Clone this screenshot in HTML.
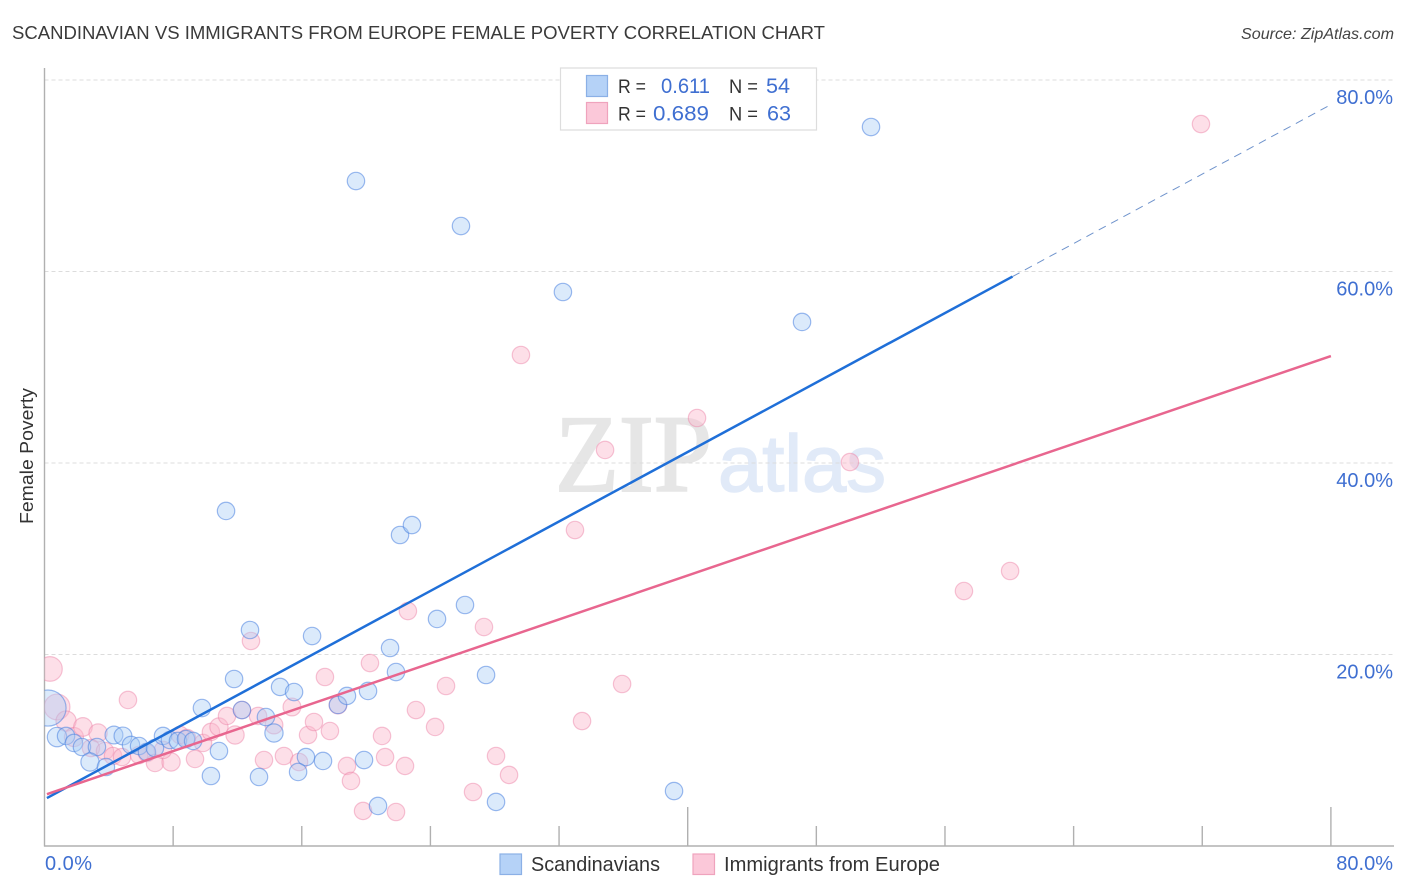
<!DOCTYPE html>
<html lang="en">
<head>
<meta charset="utf-8">
<title>Scandinavian vs Immigrants from Europe Female Poverty Correlation Chart</title>
<style>
html,body{margin:0;padding:0;background:#fff;width:1406px;height:892px;overflow:hidden}
svg{display:block;font-family:"Liberation Sans",sans-serif}
</style>
</head>
<body>
<svg id="chart" xmlns="http://www.w3.org/2000/svg" width="1406" height="892" viewBox="0 0 1406 892">
  <defs>
    <clipPath id="plot-clip"><rect x="44.5" y="60" width="1350" height="786"></rect></clipPath>
  </defs>
  <text x="12" y="39" font-size="18.5" fill="#3a3a3a" textLength="813" lengthAdjust="spacingAndGlyphs">SCANDINAVIAN VS IMMIGRANTS FROM EUROPE FEMALE POVERTY CORRELATION CHART</text>
  <text x="1394" y="39" font-size="16" font-style="italic" fill="#444" text-anchor="end" textLength="153" lengthAdjust="spacingAndGlyphs">Source: ZipAtlas.com</text>
  <text x="555" y="491" font-size="110" font-family="'Liberation Serif',serif" fill="#e6e6e6" stroke="#e6e6e6" stroke-width="2" textLength="157" lengthAdjust="spacingAndGlyphs">ZIP</text>
  <text x="718" y="491" font-size="80" fill="#e1eaf8" stroke="#e1eaf8" stroke-width="1.5" textLength="168" lengthAdjust="spacingAndGlyphs">atlas</text>
  <g id="grid"></g>
  <g id="axes"></g>
  <g id="points" clip-path="url(#plot-clip)"></g>
  <g id="trends"></g>
  <g id="labels"></g>
  <text transform="translate(33,456) rotate(-90)" font-size="18" fill="#333" text-anchor="middle" textLength="136" lengthAdjust="spacingAndGlyphs">Female Poverty</text>

  <g>
    <rect x="560.5" y="68" width="256" height="62" fill="#fff" stroke="#dddddd" stroke-width="1.2"></rect>
    <rect x="586.5" y="75.5" width="21" height="21" fill="#b5d2f7" stroke="#8bb0e6" stroke-width="1.2"></rect>
    <rect x="586.5" y="102.5" width="21" height="21" fill="#fbc8d9" stroke="#efa3bd" stroke-width="1.2"></rect>
    <text x="618" y="93" font-size="19" fill="#333" textLength="28" lengthAdjust="spacingAndGlyphs">R =</text>
    <text x="661" y="93" font-size="21" fill="#3f6fd1" textLength="49" lengthAdjust="spacingAndGlyphs">0.611</text>
    <text x="729" y="93" font-size="19" fill="#333" textLength="29" lengthAdjust="spacingAndGlyphs">N =</text>
    <text x="766" y="93" font-size="21" fill="#3f6fd1" textLength="24" lengthAdjust="spacingAndGlyphs">54</text>
    <text x="618" y="120.5" font-size="19" fill="#333" textLength="28" lengthAdjust="spacingAndGlyphs">R =</text>
    <text x="653" y="120.5" font-size="21" fill="#3f6fd1" textLength="56" lengthAdjust="spacingAndGlyphs">0.689</text>
    <text x="729" y="120.5" font-size="19" fill="#333" textLength="29" lengthAdjust="spacingAndGlyphs">N =</text>
    <text x="767" y="120.5" font-size="21" fill="#3f6fd1" textLength="24" lengthAdjust="spacingAndGlyphs">63</text>
  </g>

  <g>
    <rect x="500" y="854" width="21.5" height="20.5" fill="#b5d2f7" stroke="#8bb0e6" stroke-width="1.2"></rect>
    <text x="531" y="871" font-size="20" fill="#333" textLength="129" lengthAdjust="spacingAndGlyphs">Scandinavians</text>
    <rect x="693" y="854" width="21.5" height="20.5" fill="#fbc8d9" stroke="#efa3bd" stroke-width="1.2"></rect>
    <text x="724" y="871" font-size="20" fill="#333" textLength="216" lengthAdjust="spacingAndGlyphs">Immigrants from Europe</text>
  </g>
</svg>
<script>
var yGridValues = [20, 40, 60, 80];
var yTickLabels = ["20.0%", "40.0%", "60.0%", "80.0%"];
var xTickValues = [8, 16, 24, 32, 40, 48, 56, 64, 72, 80];
var xEndLabels = ["0.0%", "80.0%"];
var xEndValues = [0, 80];

var blueX = [0.22,0.78,1.34,1.83,2.33,3.26,2.83,3.82,4.32,4.88,5.38,5.88,6.37,6.87,7.37,7.80,8.30,8.80,9.24,9.79,10.85,10.35,11.79,12.28,12.78,13.77,14.27,13.34,14.65,15.52,16.64,16.26,15.77,17.32,18.25,18.81,20.12,19.87,20.74,21.86,21.49,24.41,26.15,27.46,28.08,39.15,11.29,22.11,22.85,19.37,25.90,32.24,47.11,51.40];
var blueY = [14.41,11.38,11.49,10.76,10.34,10.34,8.77,8.25,11.59,11.49,10.55,10.44,9.82,10.23,11.49,11.07,10.97,11.17,10.97,14.41,9.92,7.31,17.44,14.20,22.56,13.47,11.80,7.21,16.61,16.08,21.93,9.29,7.73,8.88,14.73,15.67,16.19,8.98,4.18,18.17,20.68,23.71,25.17,17.86,4.60,5.74,34.99,32.48,33.52,69.45,64.75,57.86,54.73,75.09];
var blueWeight = [4.3,1.25,1,1,1,1,1.1,1,1.05,1.05,1,1,1,1,1,1,1,1,1,1,1,1,1,1,1,1,1.1,1,1,1,1,1,1,1,1,1,1,1,1,1,1,1,1,1,1,1,1,1,1,1,1,1,1,1];

var pinkX = [0.34,0.78,5.19,1.34,1.83,2.39,3.33,2.89,3.76,4.26,4.82,5.88,6.37,6.87,7.87,7.37,8.43,8.86,9.36,9.86,10.35,10.85,11.35,11.85,12.28,12.84,13.28,14.27,13.65,14.89,15.39,15.83,16.39,16.76,17.75,17.44,18.25,18.81,19.06,19.81,21.18,20.99,21.86,22.42,23.10,24.29,24.97,20.24,22.60,27.33,26.65,28.08,28.89,33.43,35.92,32.99,34.86,29.63,40.58,50.09,57.18,60.05,71.92];
var pinkY = [18.49,14.52,15.25,13.05,11.38,12.43,11.80,10.23,9.92,9.40,9.29,9.50,9.71,8.67,8.77,10.03,11.59,11.28,9.09,10.76,11.91,12.43,13.58,11.59,14.20,21.41,13.58,12.64,8.98,9.40,14.52,8.77,11.59,12.95,12.01,17.65,14.73,8.36,6.79,3.66,9.29,11.49,3.55,8.36,14.20,12.43,16.71,19.11,24.54,22.87,5.64,9.40,7.42,13.05,16.92,33.00,41.36,51.28,44.70,40.10,26.63,28.72,75.40];
var pinkWeight = [2,2.2,1,1.35,1.2,1.15,1.1,1,1,1,1,1,1,1,1.1,1,1,1,1,1,1,1.1,1,1.1,1,1,1,1.05,1,1,1.05,1,1,1,1,1,1.05,1,1,1,1,1,1,1,1,1,1,1,1,1,1,1,1,1,1,1,1,1,1,1,1,1,1];

var blueTrend = [4.87, 0.907, 60.2, 80];
var pinkTrend = [5.33, 0.573, 80];

var NS = "http://www.w3.org/2000/svg";
function X(v) { return 44.5 + v * 16.08; }
function Y(v) { return 846 - v * 9.575; }
function R(w) { return 8.7 * Math.sqrt(w); }
function make(tag, parent, attrs) {
  var el = document.createElementNS(NS, tag);
  for (var k in attrs) el.setAttribute(k, attrs[k]);
  parent.appendChild(el);
  return el;
}

var grid = document.getElementById("grid");
var axes = document.getElementById("axes");
var points = document.getElementById("points");
var trends = document.getElementById("trends");
var labels = document.getElementById("labels");

yGridValues.forEach(function (v, i) {
  var line = make("line", grid, {x1: 44.5, x2: 1393, y1: Y(v), y2: Y(v), stroke: "#dcdcdc", "stroke-width": 1, "stroke-dasharray": "4 3"});
  
  
  var t = make("text", labels, {x: 1393, y: Y(v) + 24, "font-size": 20, fill: "#3f6fd1", "text-anchor": "end"});
  t.textContent = yTickLabels[i];
  
  
});

var yAxis = make("line", axes, {x1: 44.5, x2: 44.5, y1: 68, y2: 846.5, stroke: "#b0b0b0", "stroke-width": 1.4});


var xAxis = make("line", axes, {x1: 44, x2: 1394, y1: 846, y2: 846, stroke: "#b0b0b0", "stroke-width": 1.4});



xTickValues.forEach(function (v) {
  var top = v % 40 === 0 ? 807 : 826;
  var tick = make("line", axes, {x1: X(v), x2: X(v), y1: top, y2: 846, stroke: "#b0b0b0", "stroke-width": 1.4});
  
  
});

xEndLabels.forEach(function (s, i) {
  var anchorEnd = i === 1;
  var t = make("text", labels, {x: anchorEnd ? 1393 : 45, y: 870, "font-size": 20, fill: "#3f6fd1", "text-anchor": anchorEnd ? "end" : "start"});
  t.textContent = s;
  if (!anchorEnd) { t.setAttribute("textLength", "47"); }
  
  
});

pinkX.forEach(function (x, i) {
  var c = make("circle", points, {cx: X(x), cy: Y(pinkY[i]), r: R(pinkWeight[i]), fill: "#fab8cd", "fill-opacity": 0.45, stroke: "#ec7ea3", "stroke-opacity": 0.45, "stroke-width": 1.2});
  
  
});
blueX.forEach(function (x, i) {
  var c = make("circle", points, {cx: X(x), cy: Y(blueY[i]), r: R(blueWeight[i]), fill: "#a9cdf5", "fill-opacity": 0.42, stroke: "#4a82e0", "stroke-opacity": 0.55, "stroke-width": 1.2});
  
  
});

var bs = make("line", trends, {x1: X(0.15), y1: Y(blueTrend[0] + blueTrend[1] * 0.15), x2: X(blueTrend[2]), y2: Y(blueTrend[0] + blueTrend[1] * blueTrend[2]), stroke: "#1f6fd8", "stroke-width": 2.5});


var bd = make("line", trends, {x1: X(blueTrend[2]), y1: Y(blueTrend[0] + blueTrend[1] * blueTrend[2]), x2: X(blueTrend[3]), y2: Y(blueTrend[0] + blueTrend[1] * blueTrend[3]), stroke: "#6f93cc", "stroke-width": 1, "stroke-dasharray": "8 6"});


var ps = make("line", trends, {x1: X(0.15), y1: Y(pinkTrend[0] + pinkTrend[1] * 0.15), x2: X(pinkTrend[2]), y2: Y(pinkTrend[0] + pinkTrend[1] * pinkTrend[2]), stroke: "#e8668f", "stroke-width": 2.5});


</script>
</body>
</html>
